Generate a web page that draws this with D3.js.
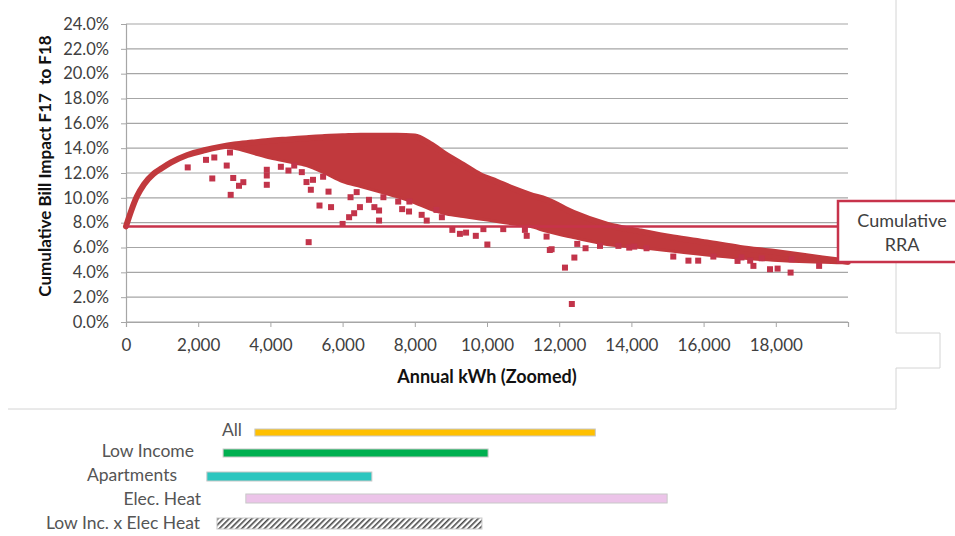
<!DOCTYPE html>
<html>
<head>
<meta charset="utf-8">
<script src="https://cdn.jsdelivr.net/npm/d3@7"></script>
<style>
  body { margin: 0; background: #fff; }
  svg { display: block; font-family: Lato, "Open Sans", sans-serif; }
</style>
</head>
<body>
<div id="chart"></div>
<script>
// values
const bandKwh = [0, 150, 300, 500, 750, 1000, 1250, 1700, 2200, 2600, 3000, 3500, 4000, 4500, 5000, 5500, 6000, 6500, 7000, 7500, 8000, 8420, 8880, 9340, 9800, 10270, 10720, 11190, 11650, 12390, 13320, 14240, 15160, 16090, 17010, 17930, 18850, 19690, 20000];
const bandUpper = [7.7, 9.0, 10.1, 11.1, 11.9, 12.4, 12.85, 13.45, 13.85, 14.1, 14.3, 14.45, 14.6, 14.7, 14.8, 14.9, 14.95, 15.0, 15.0, 15.0, 14.95, 14.35, 13.45, 12.65, 11.85, 11.3, 10.75, 10.25, 9.85, 8.8, 7.85, 7.3, 6.8, 6.4, 5.97, 5.65, 5.3, 4.97, 4.85];
const bandLower = [7.7, 9.0, 10.1, 11.1, 11.9, 12.4, 12.85, 13.45, 13.85, 14.1, 14.0, 13.6, 13.2, 12.9, 12.6, 12.0, 11.3, 10.9, 10.5, 10.1, 9.6, 9.1, 8.7, 8.5, 8.3, 8.1, 7.9, 7.7, 7.3, 6.8, 6.25, 6.0, 5.7, 5.4, 5.15, 4.98, 4.85, 4.78, 4.75];

// scattered customers below the dense band
const outlierKwh = [1710, 2216, 2446, 2390, 2790, 2880, 2970, 3130, 3250, 2900, 3900, 3900, 3900, 4290, 4500, 4660, 4870, 5000, 5120, 5360, 5610, 5680, 5060, 5460, 5180,
  6000, 6180, 6320, 6480, 6220, 6390, 6730, 6880, 7010, 7010, 7130, 7540, 7650, 7850, 7840, 8190, 8330, 8600, 8750, 9040, 9250, 9420, 9690, 10010, 9900, 10450, 11050, 11100, 11650, 11740,
  11790, 12160, 12350, 12420, 12500, 12730, 13130, 13640, 13940, 14080, 14420, 15160, 15580, 15850, 16270, 16940, 17050, 17380, 17290, 17840, 18050, 18440, 18410, 19200, 17610];
const outlierPct = [12.45, 13.06, 13.25, 11.56, 12.6, 13.65, 11.6, 10.97, 11.26, 10.24, 11.05, 11.8, 12.26, 12.5, 12.2, 12.6, 12.07, 11.27, 10.65, 9.38, 10.5, 9.25, 6.43, 11.7, 11.45,
  7.9, 8.44, 8.76, 9.25, 10.05, 10.46, 9.84, 9.25, 8.98, 8.17, 10.05, 9.7, 9.09, 9.7, 8.9, 8.63, 8.17, 9.03, 8.44, 7.42, 7.1, 7.2, 6.94, 6.24, 7.48, 7.48, 7.42, 6.94, 6.88, 5.8,
  5.86, 4.38, 1.45, 5.19, 6.29, 5.94, 6.13, 6.13, 5.99, 6.07, 5.94, 5.27, 4.94, 4.94, 5.27, 4.92, 5.2, 4.52, 4.94, 4.25, 4.3, 5.05, 3.98, 4.52, 5.13];

const rraPct = 7.7;

const yTicks = [0, 2, 4, 6, 8, 10, 12, 14, 16, 18, 20, 22, 24];
const xTicks = [0, 2000, 4000, 6000, 8000, 10000, 12000, 14000, 16000, 18000, 20000];
const xTickLabels = ['0', '2,000', '4,000', '6,000', '8,000', '10,000', '12,000', '14,000', '16,000', '18,000', ''];

const groupNames = ['All', 'Low Income', 'Apartments', 'Elec. Heat', 'Low Inc. x Elec Heat'];
const groupFrom = [3570, 2690, 2240, 3320, 2520];
const groupTo = [13000, 10030, 6810, 14990, 9860];

// layout
const rowTop = [429, 449, 472, 494, 518];
const rowHeight = [7, 8, 9, 9, 11];
const labelRight = [242, 194, 177, 201, 200];
const labelBase = [436, 457, 481, 505, 529];
const groupFill = ['#ffc000', '#00b050', '#2dc6bf', '#ecc4e9', 'url(#hatch)'];

const W = 955, H = 536;
const red = '#c1393d';
const rraRed = '#c7334b';

const svg = d3.select('#chart').append('svg')
  .attr('width', W)
  .attr('height', H);

const defs = svg.append('defs');
const hatch = defs.append('pattern')
  .attr('id', 'hatch')
  .attr('patternUnits', 'userSpaceOnUse')
  .attr('width', 4)
  .attr('height', 4)
  .attr('patternTransform', 'rotate(45)');
hatch.append('rect').attr('width', 4).attr('height', 4).attr('fill', '#fff');
hatch.append('rect').attr('width', 1.6).attr('height', 4).attr('fill', '#4a4a4a');

const x = d3.scaleLinear().domain([0, 20000]).range([126, 848]);
const y = d3.scaleLinear().domain([0, 24]).range([322, 24]);

// outer frame of the pasted chart
svg.append('path')
  .attr('d', 'M8,409 H896 V368 H940 V333 H896 V0')
  .attr('fill', 'none')
  .attr('stroke', '#d4d4d4')
  .attr('stroke-width', 1);

// gridlines
svg.append('g')
  .selectAll('line')
  .data(yTicks)
  .join('line')
  .attr('x1', x(0))
  .attr('x2', x(20000))
  .attr('y1', d => y(d))
  .attr('y2', d => y(d))
  .attr('stroke', '#a6a6a6')
  .attr('stroke-width', 1.2);

// y axis
const yAxis = svg.append('g')
  .attr('transform', `translate(${x(0)},0)`)
  .call(d3.axisLeft(y).tickValues(yTicks).tickSize(5).tickPadding(12)
    .tickFormat(d => d.toFixed(1) + '%'));
yAxis.select('.domain').attr('stroke', '#a6a6a6').attr('stroke-width', 1.2);
yAxis.selectAll('.tick line').attr('stroke', '#a6a6a6');
yAxis.selectAll('.tick text')
  .attr('font-size', 16.5)
  .attr('font-family', 'Lato, sans-serif')
  .attr('fill', '#404040');

// x axis
const xAxis = svg.append('g')
  .attr('transform', `translate(0,${y(0)})`)
  .call(d3.axisBottom(x).tickValues(xTicks).tickSize(5).tickPadding(12)
    .tickFormat((d, i) => xTickLabels[i]));
xAxis.select('.domain').attr('stroke', '#a6a6a6').attr('stroke-width', 1.2);
xAxis.selectAll('.tick line').attr('stroke', '#a6a6a6');
xAxis.selectAll('.tick text')
  .attr('font-size', 17)
  .attr('font-family', 'Lato, sans-serif')
  .attr('fill', '#404040');

// dense band of customers
const band = bandKwh.map((k, i) => ({ k, hi: bandUpper[i], lo: bandLower[i] }));

svg.append('path')
  .datum(band)
  .attr('d', d3.area()
    .x(d => x(d.k))
    .y0(d => y(d.lo))
    .y1(d => y(d.hi))
    .curve(d3.curveMonotoneX))
  .attr('fill', red)
  .attr('stroke', red)
  .attr('stroke-width', 3)
  .attr('stroke-linejoin', 'round');

svg.append('path')
  .datum(band)
  .attr('d', d3.line()
    .x(d => x(d.k))
    .y(d => y(d.hi))
    .curve(d3.curveMonotoneX))
  .attr('fill', 'none')
  .attr('stroke', red)
  .attr('stroke-width', 6)
  .attr('stroke-linecap', 'round');

// outlier markers
svg.append('g')
  .selectAll('rect')
  .data(outlierKwh.map((k, i) => ({ k, p: outlierPct[i] })))
  .join('rect')
  .attr('x', d => x(d.k) - 3)
  .attr('y', d => y(d.p) - 3)
  .attr('width', 6)
  .attr('height', 6)
  .attr('fill', '#c2344a');

// cumulative RRA line and callout
svg.append('line')
  .attr('x1', x(0))
  .attr('x2', 838)
  .attr('y1', y(rraPct))
  .attr('y2', y(rraPct))
  .attr('stroke', rraRed)
  .attr('stroke-width', 2.5);

svg.append('rect')
  .attr('x', 838)
  .attr('y', 201)
  .attr('width', 140)
  .attr('height', 61)
  .attr('fill', '#fff')
  .attr('stroke', rraRed)
  .attr('stroke-width', 2.5);

svg.append('text')
  .attr('x', 902)
  .attr('y', 227)
  .attr('text-anchor', 'middle')
  .attr('font-size', 18)
  .attr('fill', '#404040')
  .text('Cumulative');
svg.append('text')
  .attr('x', 902)
  .attr('y', 251)
  .attr('text-anchor', 'middle')
  .attr('font-size', 18)
  .attr('fill', '#404040')
  .text('RRA');

// axis titles
svg.append('text')
  .attr('x', 487)
  .attr('y', 383)
  .attr('text-anchor', 'middle')
  .attr('font-size', 18)
  .attr('font-weight', 'bold')
  .attr('fill', '#111')
  .text('Annual kWh (Zoomed)');

svg.append('text')
  .attr('transform', 'translate(51,166) rotate(-90)')
  .attr('text-anchor', 'middle')
  .attr('font-size', 17)
  .attr('font-weight', 'bold')
  .attr('fill', '#111')
  .style('white-space', 'pre')
  .text('Cumulative Bill Impact F17  to F18');

// usage range bars per customer group
const groups = svg.append('g');
groups.selectAll('rect')
  .data(groupNames)
  .join('rect')
  .attr('x', (d, i) => x(groupFrom[i]))
  .attr('y', (d, i) => rowTop[i])
  .attr('width', (d, i) => x(groupTo[i]) - x(groupFrom[i]))
  .attr('height', (d, i) => rowHeight[i])
  .attr('fill', (d, i) => groupFill[i])
  .attr('stroke', '#c8c8c8')
  .attr('stroke-width', 1);

groups.selectAll('text')
  .data(groupNames)
  .join('text')
  .attr('x', (d, i) => labelRight[i])
  .attr('y', (d, i) => labelBase[i])
  .attr('text-anchor', 'end')
  .attr('font-size', 17.5)
  .attr('fill', '#555')
  .text(d => d);
</script>
</body>
</html>
